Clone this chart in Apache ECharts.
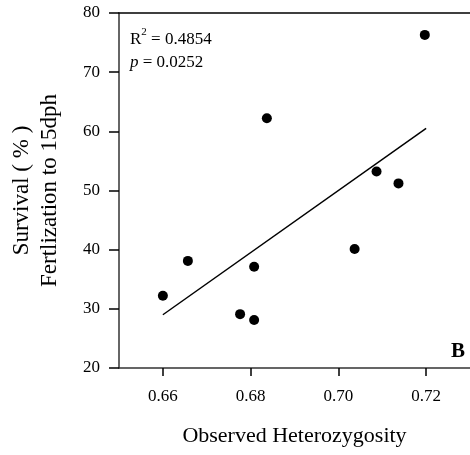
<!DOCTYPE html>
<html>
<head>
<meta charset="utf-8">
<script src="https://cdn.jsdelivr.net/npm/echarts@6/dist/echarts.min.js"></script>
<style>html,body{margin:0;padding:0;background:#fff;}#c{width:470px;height:455px;}</style>
</head>
<body>
<div id="c"></div>
<script>
const heterozygosity = [0.660, 0.6657, 0.6776, 0.6808, 0.6808, 0.6837, 0.7037, 0.7087, 0.7137, 0.7197];
const survival = [32.2, 38.1, 29.1, 28.1, 37.1, 62.2, 40.1, 53.2, 51.2, 76.3];
const fitX = [0.660, 0.720];
const fitY = [29.0, 60.5];
const xTicks = [0.66, 0.68, 0.70, 0.72];
const yTicks = [20, 30, 40, 50, 60, 70, 80];
const statsText = ['R', '2', ' = 0.4854', 'p', ' = 0.0252'];

const FONT = "'Liberation Serif', 'Times New Roman', serif";
const AX = '#333';

const chart = echarts.init(document.getElementById('c'));
chart.setOption({
  animation: false,
  backgroundColor: '#fff',
  grid: { left: 119, top: 13, width: 358, height: 355 },
  xAxis: [{
    type: 'value', min: 0.65, max: 0.73, position: 'bottom',
    splitLine: { show: false },
    axisLine: { show: true, onZero: false, lineStyle: { color: AX, width: 1.5 } },
    axisTick: { show: true, length: 8, customValues: xTicks, lineStyle: { color: '#000', width: 1.5 } },
    axisLabel: { customValues: xTicks, margin: 20, color: '#000', fontFamily: FONT, fontSize: 17,
      formatter: v => v.toFixed(2) },
    name: 'Observed Heterozygosity', nameLocation: 'middle', nameGap: 57,
    nameTextStyle: { color: '#000', fontFamily: FONT, fontSize: 22 }
  }, {
    type: 'value', min: 0.65, max: 0.73, position: 'top',
    splitLine: { show: false },
    axisLine: { show: true, onZero: false, lineStyle: { color: '#000', width: 1.5 } },
    axisTick: { show: false }, axisLabel: { show: false }
  }],
  yAxis: {
    type: 'value', min: yTicks[0], max: yTicks[yTicks.length - 1], interval: 10,
    splitLine: { show: false },
    axisLine: { show: true, onZero: false, lineStyle: { color: AX, width: 1.5 } },
    axisTick: { show: true, length: 10, lineStyle: { color: '#000', width: 1.5 } },
    axisLabel: { margin: 19, color: '#000', fontFamily: FONT, fontSize: 17 },
    name: 'Survival ( % )\nFertlization to 15dph', nameLocation: 'middle', nameGap: 55,
    nameTextStyle: { color: '#000', fontFamily: FONT, fontSize: 23, lineHeight: 28 }
  },
  series: [{
    type: 'scatter', symbol: 'circle', symbolSize: 10,
    itemStyle: { color: '#000', opacity: 1 },
    data: heterozygosity.map((x, i) => [x, survival[i]])
  }, {
    type: 'line', symbol: 'none',
    lineStyle: { color: '#000', width: 1.5 },
    data: fitX.map((x, i) => [x, fitY[i]])
  }],
  graphic: [{
    type: 'text', left: 130, top: 25,
    style: {
      text: '{n|' + statsText[0] + '}{s|' + statsText[1] + '}{n|' + statsText[2] + '}\n{i|' + statsText[3] + '}{n|' + statsText[4] + '}',
      fontFamily: FONT, fill: '#000',
      rich: {
        n: { fontFamily: FONT, fontSize: 17, lineHeight: 23, verticalAlign: 'bottom' },
        s: { fontFamily: FONT, fontSize: 11, lineHeight: 23, verticalAlign: 'top', padding: [2, 0, 4, 0] },
        i: { fontFamily: FONT, fontSize: 17, lineHeight: 23, fontStyle: 'italic', verticalAlign: 'bottom' }
      }
    }
  }, {
    type: 'text', right: 5, top: 341,
    style: { text: 'B', fontFamily: FONT, fontSize: 21, fontWeight: 'bold', fill: '#000' }
  }]
});
</script>
</body>
</html>
